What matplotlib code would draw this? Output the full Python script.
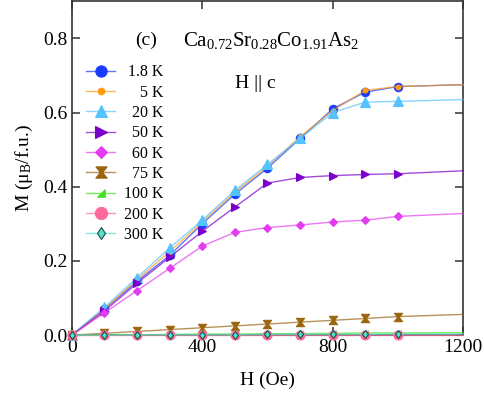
import numpy as np
import matplotlib
matplotlib.use("Agg")
import matplotlib.pyplot as plt

plt.rcParams['font.family'] = ['Liberation Serif', 'DejaVu Serif']
plt.rcParams['mathtext.fontset'] = 'custom'
plt.rcParams['mathtext.rm'] = 'Liberation Serif'
plt.rcParams['mathtext.it'] = 'Liberation Serif:italic'

H = [0, 100, 200, 300, 400, 500, 600, 700, 800, 900, 1000, 1200]
# padded with figure / punctuation spaces so the labels line up on the right
labels = ['\u20081.8 K', '\u2007\u20075 K', '\u200720 K', '\u200750 K', '\u200760 K',
          '\u200775 K', '100 K', '200 K', '300 K']
M = [
    [0, 0.070, 0.145, 0.215, 0.300, 0.380, 0.450, 0.530, 0.610, 0.655, 0.670, 0.675],
    [0, 0.070, 0.150, 0.225, 0.305, 0.385, 0.455, 0.535, 0.605, 0.660, 0.670, 0.675],
    [0, 0.075, 0.155, 0.235, 0.310, 0.390, 0.460, 0.530, 0.600, 0.628, 0.630, 0.635],
    [0, 0.065, 0.140, 0.210, 0.280, 0.345, 0.410, 0.425, 0.430, 0.433, 0.435, 0.443],
    [0, 0.060, 0.120, 0.180, 0.240, 0.277, 0.290, 0.297, 0.305, 0.310, 0.320, 0.328],
    [0, 0.005, 0.010, 0.015, 0.020, 0.025, 0.030, 0.035, 0.040, 0.045, 0.050, 0.056],
    [0, 0.001, 0.001, 0.002, 0.003, 0.003, 0.004, 0.004, 0.005, 0.006, 0.006, 0.007],
    [0, 0.000, 0.000, 0.000, 0.000, 0.000, 0.000, 0.000, 0.000, 0.000, 0.000, 0.000],
    [0, 0.000, 0.001, 0.001, 0.001, 0.001, 0.002, 0.002, 0.002, 0.002, 0.003, 0.003],
]

hourglass = [(-1, 1), (1, 1), (0.2, 0), (1, -1), (-1, -1), (-0.2, 0), (-1, 1)]
halftri = [(-1, -1), (1, -1), (1, 1), (-1, -1)]

colors = ['#1a3cff', '#ff9a10', '#55c3ff', '#7a00cc', '#e43cf0', '#9a6510', '#40e020', '#ff6a9a', '#55e0cc']
markers = ['o', 'o', '^', '>', 'D', hourglass, halftri, 'o', 'd']
msizes = [6, 3.5, 6.5, 6, 4.5, 6, 4, 6.5, 4.5]
medges = ['#1a3cff', '#ff9a10', '#55c3ff', '#7a00cc', '#e43cf0', '#9a6510', '#40e020', '#ff6a9a', '#224a48']

fig = plt.figure(figsize=(4.85, 3.99), dpi=100)
ax = fig.add_axes([0.148, 0.16, 0.807, 0.837])

for i in range(len(labels)):
    c = matplotlib.colors.to_rgb(colors[i])
    ax.plot(H, M[i], color=c + (0.7,), lw=1.0, marker=markers[i], ms=msizes[i],
            mfc=colors[i], mec=medges[i], mew=0.8, markevery=list(range(11)),
            label=labels[i], clip_on=False, zorder=3 + i * 0.1)

ax.set_xlim(0, 1200)
ax.set_ylim(0, 0.9)
ax.set_xticks([0, 400, 800, 1200])
ax.set_yticks([0.0, 0.2, 0.4, 0.6, 0.8])
ax.set_yticklabels(['0.0', '0.2', '0.4', '0.6', '0.8'])
ax.tick_params(direction='in', top=True, right=True, length=6, width=1.1,
               labelsize=14, color='#333333', pad=3)
for s in ax.spines.values():
    s.set_linewidth(1.2)
    s.set_color('#333333')

ax.set_xlabel('H (Oe)', fontsize=14, labelpad=11)
ax.set_ylabel(r'M (μ$_{\rm B}$/f.u.)', fontsize=14, labelpad=6)

ax.text(0.19, 0.883, '(c)', transform=ax.transAxes, fontsize=14, ha='center', va='center')
ax.text(0.283, 0.883, r'Ca$_{0.72}$Sr$_{0.28}$Co$_{1.91}$As$_2$', transform=ax.transAxes,
        fontsize=15, ha='left', va='center')
ax.text(0.47, 0.755, 'H || c', transform=ax.transAxes, fontsize=14, ha='center', va='center')

ax.legend(loc='upper left', bbox_to_anchor=(0.0, 0.854), frameon=False, fontsize=11.5,
          handlelength=1.8, handletextpad=0.6, labelspacing=0.27, markerscale=1.35,
          borderaxespad=0.5)

fig.savefig('out.png', dpi=100)
